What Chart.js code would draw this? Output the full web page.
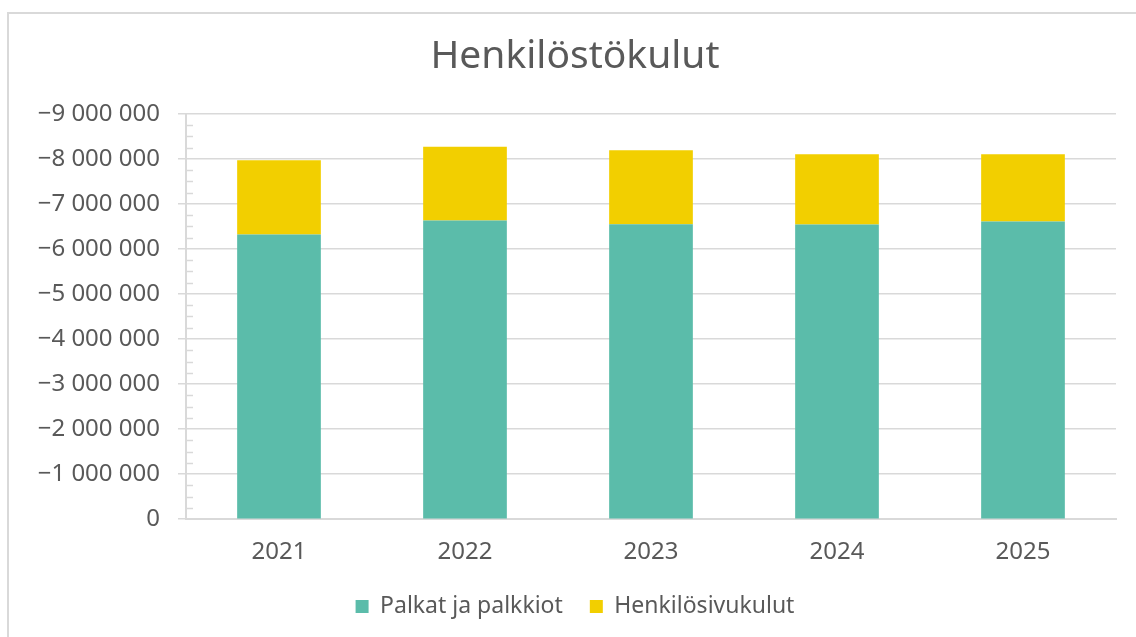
<!DOCTYPE html>
<html>
<head>
<meta charset="utf-8">
<script src="https://cdn.jsdelivr.net/npm/chart.js@4/dist/chart.umd.min.js"></script>
<style>
  html, body { margin: 0; padding: 0; background: #fff; }
  #wrap { position: relative; width: 1136px; height: 637px; overflow: hidden; }
  #frame { position: absolute; left: 7px; top: 12px; width: 1200px; height: 700px; border: 2px solid #d9d9d9; box-sizing: border-box; }
  #c { position: absolute; left: 0; top: 0; }
</style>
</head>
<body>
<div id="wrap">
  <div id="frame"></div>
  <canvas id="c" width="1136" height="637"></canvas>
</div>
<script>
const categories = ['2021', '2022', '2023', '2024', '2025'];
const palkat = [-6320000, -6630000, -6550000, -6540000, -6610000];
const sivukulut = [-1650000, -1640000, -1640000, -1560000, -1490000];
const seriesNames = ['Palkat ja palkkiot', 'Henkilösivukulut'];
const chartTitle = 'Henkilöstökulut';
const yMin = -9000000, yMax = 0, yStep = 1000000, yMinorStep = 250000;

const FONT = 'Noto Sans';
const TEXT = '#595959';
const GRID = '#d9d9d9';
const LEGEND_PAD = 27;
const LEGEND_TRIM = LEGEND_PAD - 9;

function fmt(v) {
  if (v === 0) return '0';
  const s = Math.abs(v).toString().replace(/\B(?=(\d{3})+(?!\d))/g, ' ');
  return (v < 0 ? '\u2212' : '') + s;
}

const minorTicks = {
  id: 'minorTicks',
  afterDatasetsDraw(chart) {
    const y = chart.scales.y;
    const ctx = chart.ctx;
    const left = chart.chartArea.left;
    ctx.save();
    ctx.strokeStyle = GRID;
    ctx.lineWidth = 1.5;
    for (let v = yMax; v >= yMin; v -= yMinorStep) {
      if (v % yStep === 0) continue;
      const py = Math.round(y.getPixelForValue(v)) + 0.5;
      ctx.beginPath();
      ctx.moveTo(left, py);
      ctx.lineTo(left + 7, py);
      ctx.stroke();
    }
    ctx.restore();
  }
};

new Chart(document.getElementById('c'), {
  type: 'bar',
  data: {
    labels: categories,
    datasets: [
      { label: seriesNames[0], data: palkat, backgroundColor: '#5BBCAA', barPercentage: 0.45, categoryPercentage: 1 },
      { label: seriesNames[1], data: sivukulut, backgroundColor: '#F2CF00', barPercentage: 0.45, categoryPercentage: 1 }
    ]
  },
  options: {
    responsive: false,
    animation: false,
    layout: { padding: { left: 34, right: 20, top: 0, bottom: 9 } },
    plugins: {
      title: {
        display: true, text: chartTitle, color: TEXT,
        font: { family: FONT, size: 39, weight: 'normal' },
        padding: { top: 33, bottom: 34 }
      },
      legend: {
        position: 'bottom',
        labels: {
          color: TEXT, font: { family: FONT, size: 23 },
          boxWidth: 13, boxHeight: 13, padding: LEGEND_PAD
        }
      },
      tooltip: { enabled: false }
    },
    scales: {
      x: {
        stacked: true,
        grid: { display: false, drawTicks: false },
        border: { color: GRID, width: 2 },
        ticks: { color: TEXT, font: { family: FONT, size: 24 }, padding: 19 },
        afterFit(s) { s.height -= LEGEND_TRIM; }
      },
      y: {
        stacked: true,
        reverse: true,
        min: yMin, max: yMax,
        afterFit(s) { s.width = 152; },
        grid: { color: GRID, lineWidth: 1.5, tickLength: 8, tickColor: GRID },
        border: { color: GRID, width: 2 },
        ticks: {
          stepSize: yStep, color: TEXT, padding: 18,
          font: { family: FONT, size: 24 },
          callback: (v) => fmt(v)
        }
      }
    }
  },
  plugins: [minorTicks]
});
</script>
</body>
</html>
